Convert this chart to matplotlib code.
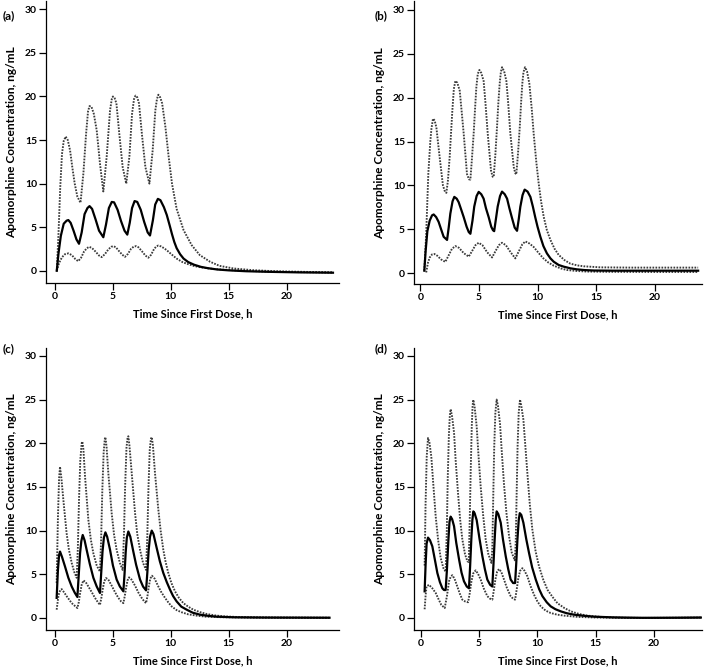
import matplotlib
matplotlib.use("Agg")
import matplotlib.pyplot as plt
from matplotlib import font_manager as fm
import numpy as np

# ---- panel (a) ----
a_mid_t = [0.15, 0.3, 0.5, 0.75, 1.0, 1.15, 1.35, 1.6, 1.85, 2.07, 2.3, 2.55, 2.8, 2.98, 3.2, 3.5, 3.8, 4.17,
           4.4, 4.65, 4.9, 5.1, 5.4, 5.7, 6.0, 6.24, 6.45, 6.65, 6.87, 7.1, 7.4, 7.7, 8.0, 8.2, 8.45, 8.65,
           8.88, 9.1, 9.4, 9.65, 9.9, 10.1, 10.3, 10.5, 10.8, 11.1, 11.5, 12.0, 12.6, 13.2, 14.0, 15.0, 16.5,
           18.5, 21, 24]
a_mid_c = [0, 2.0, 4.0, 5.4, 5.75, 5.82, 5.5, 4.6, 3.6, 3.1, 4.4, 6.5, 7.2, 7.42, 7.1, 5.9, 4.6, 3.85,
           5.3, 7.2, 7.9, 7.85, 7.0, 5.7, 4.6, 4.15, 5.5, 7.2, 8.0, 7.9, 7.0, 5.6, 4.4, 4.05, 5.8, 7.6,
           8.25, 8.1, 7.3, 6.4, 5.2, 4.2, 3.3, 2.6, 1.9, 1.4, 1.0, 0.7, 0.45, 0.3, 0.15, 0.05, -0.05,
           -0.12, -0.18, -0.22]
a_hi_t = [0.15, 0.3, 0.45, 0.6, 0.75, 0.92, 1.1, 1.3, 1.5, 1.7, 1.93, 2.2, 2.45, 2.68, 2.85, 2.98, 3.15, 3.35,
          3.6, 3.88, 4.17, 4.46, 4.75, 4.9, 5.0, 5.15, 5.3, 5.55, 5.84, 6.15, 6.42, 6.65, 6.82, 6.95, 7.1,
          7.25, 7.5, 7.8, 8.15, 8.43, 8.66, 8.8, 8.92, 9.08, 9.25, 9.53, 9.81, 10.1, 10.5, 11.1, 11.8, 12.5,
          13.4, 14.2, 15.4, 17.0, 19, 21.5, 24]
a_hi_c = [0, 4.3, 9.6, 13.4, 14.9, 15.4, 15.0, 13.8, 11.8, 10.0, 8.5, 7.8, 11.2, 15.7, 18.3, 18.9, 18.8, 18.0,
          16.1, 12.3, 9.1, 13.1, 18.4, 19.7, 20.0, 19.8, 19.2, 15.7, 11.9, 10.0, 13.1, 18.0, 19.7, 20.1, 19.9,
          19.2, 15.7, 11.9, 10.0, 13.8, 18.4, 19.7, 20.2, 19.9, 19.2, 16.5, 13.1, 10.0, 7.1, 4.66, 2.94, 1.8,
          1.03, 0.57, 0.27, 0.08, -0.05, -0.12, -0.18]
a_lo_t = [0.15, 0.35, 0.6, 0.85, 1.15, 1.45, 1.75, 2.0, 2.25, 2.5, 2.75, 2.96, 3.2, 3.5, 3.8, 4.03, 4.3, 4.6,
          4.85, 5.03, 5.25, 5.5, 5.8, 6.04, 6.3, 6.55, 6.8, 7.0, 7.2, 7.5, 7.8, 8.06, 8.3, 8.55, 8.75, 8.92,
          9.15, 9.4, 9.64, 10.0, 10.5, 11.0, 11.4, 12.0, 12.5, 13.2, 14.0, 15.5, 18, 21, 24]
a_lo_c = [0, 0.9, 1.55, 1.9, 2.0, 1.8, 1.35, 1.1, 1.5, 2.2, 2.6, 2.75, 2.6, 2.2, 1.75, 1.57, 1.9, 2.45,
          2.75, 2.83, 2.7, 2.3, 1.85, 1.6, 1.95, 2.5, 2.78, 2.83, 2.7, 2.25, 1.75, 1.5, 1.85, 2.5, 2.8, 2.9,
          2.8, 2.6, 2.37, 1.95, 1.4, 1.0, 0.8, 0.55, 0.42, 0.28, 0.18, 0.05, -0.08, -0.15, -0.2]

# ---- panel (b) ----
b_mid_t = [0.34, 0.45, 0.6, 0.8, 1.0, 1.14, 1.35, 1.56, 1.8, 1.99, 2.28, 2.42, 2.56, 2.75, 2.9, 3.1, 3.27,
           3.5, 3.7, 3.95, 4.13, 4.27, 4.45, 4.6, 4.8, 4.98, 5.2, 5.4, 5.6, 5.83, 6.05, 6.2, 6.3, 6.45, 6.6,
           6.8, 6.97, 7.2, 7.4, 7.6, 7.82, 8.05, 8.25, 8.4, 8.53, 8.72, 8.9, 9.15, 9.39, 9.6, 9.8, 10.0,
           10.24, 10.5, 10.8, 11.1, 11.38, 11.8, 12.23, 12.8, 13.37, 14.0, 14.8, 16.5, 20, 23.7]
b_mid_c = [0.3, 2.5, 4.8, 6.0, 6.6, 6.7, 6.4, 5.86, 4.9, 4.16, 3.8, 5.2, 6.8, 8.2, 8.7, 8.5, 8.1,
           7.2, 6.4, 5.3, 4.7, 4.5, 6.0, 7.6, 8.8, 9.27, 9.0, 8.5, 7.4, 6.4, 5.3, 4.9, 4.8, 6.2, 7.6,
           8.8, 9.3, 9.0, 8.5, 7.4, 6.3, 5.2, 4.84, 6.2, 7.57, 8.9, 9.53, 9.3, 8.7, 7.6, 6.4, 5.3,
           4.16, 3.1, 2.27, 1.7, 1.32, 0.95, 0.76, 0.57, 0.45, 0.37, 0.32, 0.3, 0.3, 0.3]
b_hi_t = [0.34, 0.5, 0.68, 0.85, 0.95, 1.08, 1.22, 1.37, 1.5, 1.65, 1.93, 2.1, 2.22, 2.35, 2.5, 2.62, 2.73,
          2.86, 2.99, 3.15, 3.36, 3.5, 3.7, 3.98, 4.15, 4.27, 4.4, 4.55, 4.68, 4.78, 4.9, 5.04, 5.2, 5.4,
          5.55, 5.75, 6.03, 6.17, 6.26, 6.4, 6.54, 6.66, 6.77, 6.87, 6.97, 7.15, 7.34, 7.5, 7.68, 7.97,
          8.1, 8.19, 8.33, 8.48, 8.6, 8.7, 8.8, 8.93, 9.1, 9.3, 9.5, 9.67, 9.9, 10.1, 10.3, 10.53, 10.8,
          11.1, 11.45, 11.8, 12.3, 12.8, 13.4, 13.94, 15.36, 18, 23.7]
b_hi_c = [0.3, 4.5, 11.3, 15.0, 16.5, 17.6, 17.4, 16.6, 15.0, 13.2, 10.0, 9.3, 9.16, 10.5, 13.2, 16.0, 18.5,
          21.0, 21.9, 21.7, 20.8, 18.8, 15.9, 11.3, 10.7, 10.67, 13.0, 15.9, 19.0, 21.2, 22.7, 23.15, 22.8, 21.9,
          19.5, 15.9, 11.7, 11.0, 10.97, 13.5, 16.6, 19.5, 21.6, 22.9, 23.46, 23.0, 21.9, 19.3, 15.9, 12.1,
          11.4, 11.27, 13.6, 16.6, 19.5, 21.6, 22.9, 23.46, 23.0, 21.6, 18.8, 15.9, 12.6, 10.2, 8.2, 6.4, 4.9,
          3.8, 2.8, 2.1, 1.5, 1.1, 0.9, 0.8, 0.68, 0.65, 0.65]
b_lo_t = [0.5, 0.65, 0.8, 1.0, 1.2, 1.45, 1.75, 2.13, 2.4, 2.7, 2.99, 3.3, 3.7, 4.13, 4.4, 4.7, 4.98, 5.3,
          5.7, 6.12, 6.4, 6.7, 6.97, 7.3, 7.7, 8.1, 8.4, 8.7, 8.96, 9.3, 9.67, 10.1, 10.5, 10.9, 11.38, 12.0,
          12.5, 13.3, 14.2, 16, 20, 23.7]
b_lo_c = [0.1, 1.2, 1.8, 2.15, 2.2, 2.0, 1.6, 1.3, 2.0, 2.8, 3.1, 2.9, 2.3, 1.9, 2.5, 3.2, 3.48, 3.2,
          2.4, 1.8, 2.5, 3.2, 3.48, 3.2, 2.4, 1.7, 2.5, 3.3, 3.63, 3.4, 3.0, 2.3, 1.7, 1.25, 0.87, 0.55,
          0.38, 0.27, 0.2, 0.17, 0.15, 0.15]

# ---- panel (c) ----
c_mid_t = [0.14, 0.25, 0.35, 0.43, 0.6, 0.86, 1.15, 1.44, 1.7, 1.93, 2.05, 2.16, 2.27, 2.39, 2.55, 2.73, 3.0,
           3.31, 3.6, 3.88, 3.98, 4.1, 4.22, 4.35, 4.5, 4.75, 5.0, 5.32, 5.6, 5.9, 6.0, 6.1, 6.2, 6.33, 6.5,
           6.76, 7.0, 7.34, 7.6, 7.86, 7.97, 8.08, 8.2, 8.35, 8.5, 8.78, 9.05, 9.35, 9.65, 9.93, 10.2, 10.5,
           10.9, 11.37, 11.9, 12.52, 13.2, 13.96, 15.5, 18, 23.7]
c_mid_c = [2.3, 5.5, 7.2, 7.6, 7.0, 5.9, 4.6, 3.6, 2.9, 2.4, 5.0, 7.4, 8.8, 9.5, 8.9, 7.8, 6.2,
           4.6, 3.6, 2.86, 5.0, 7.6, 9.2, 9.8, 9.3, 7.8, 6.0, 4.4, 3.6, 3.05, 5.0, 7.5, 9.2, 9.9, 9.3,
           7.6, 6.1, 4.4, 3.6, 3.16, 5.2, 7.7, 9.3, 10.0, 9.6, 8.0, 6.5, 5.15, 4.1, 3.24, 2.5, 1.9,
           1.3, 0.95, 0.6, 0.38, 0.25, 0.15, 0.08, 0.05, 0.03]
c_hi_t = [0.14, 0.25, 0.35, 0.43, 0.55, 0.72, 1.0, 1.2, 1.44, 1.65, 1.87, 1.97, 2.07, 2.18, 2.3, 2.36, 2.45,
          2.59, 2.88, 3.1, 3.31, 3.6, 3.88, 3.98, 4.08, 4.2, 4.3, 4.35, 4.45, 4.6, 4.89, 5.1, 5.32, 5.6, 5.84,
          5.95, 6.05, 6.17, 6.27, 6.33, 6.42, 6.62, 6.91, 7.1, 7.34, 7.6, 7.86, 7.97, 8.07, 8.18, 8.28, 8.35,
          8.45, 8.63, 8.92, 9.12, 9.35, 9.55, 9.78, 10.05, 10.36, 10.7, 11.08, 11.5, 11.94, 12.5, 13.09, 13.8,
          14.53, 16, 19, 23.7]
c_hi_c = [4.0, 11.5, 16.0, 17.3, 16.0, 13.5, 9.7, 7.8, 6.3, 5.3, 4.6, 8.0, 13.5, 18.0, 20.0, 20.2, 19.3,
          16.2, 11.2, 8.9, 7.4, 6.0, 5.3, 9.0, 14.5, 19.0, 20.5, 20.7, 19.6, 16.6, 12.0, 9.5, 7.8, 6.3, 5.5,
          9.5, 15.0, 19.5, 20.7, 20.8, 19.8, 16.6, 12.0, 9.6, 7.8, 6.3, 5.5, 9.5, 15.0, 19.3, 20.5, 20.7,
          19.8, 16.6, 12.4, 10.0, 7.8, 6.4, 5.15, 4.0, 3.05, 2.3, 1.7, 1.3, 0.95, 0.68, 0.46, 0.3,
          0.19, 0.1, 0.05, 0.03]
c_lo_t = [0.14, 0.3, 0.45, 0.58, 0.8, 1.0, 1.44, 1.7, 1.93, 2.05, 2.16, 2.3, 2.45, 2.65, 2.88, 3.15, 3.45,
          3.7, 3.88, 4.0, 4.12, 4.25, 4.4, 4.6, 4.89, 5.2, 5.47, 5.7, 5.9, 6.02, 6.14, 6.26, 6.39, 6.6, 6.91,
          7.2, 7.48, 7.7, 7.86, 7.98, 8.1, 8.22, 8.37, 8.6, 8.92, 9.2, 9.5, 9.8, 10.07, 10.5, 10.94, 11.5,
          12.23, 13, 14.5, 17, 23.7]
c_lo_c = [0.95, 2.6, 3.2, 3.3, 2.9, 2.5, 1.7, 1.4, 1.14, 1.8, 2.8, 3.8, 4.3, 4.1, 3.6, 3.0, 2.3,
          1.8, 1.5, 2.3, 3.3, 4.2, 4.57, 4.4, 3.7, 2.9, 2.3, 1.9, 1.7, 2.5, 3.5, 4.3, 4.65, 4.4, 3.7,
          2.9, 2.3, 1.9, 1.7, 2.5, 3.6, 4.5, 4.84, 4.5, 3.6, 2.9, 2.3, 1.75, 1.33, 0.9, 0.65, 0.42,
          0.27, 0.15, 0.08, 0.04, 0.02]

# ---- panel (d) ----
d_mid_t = [0.34, 0.42, 0.51, 0.63, 0.8, 1.0, 1.2, 1.43, 1.65, 1.86, 2.0, 2.14, 2.25, 2.37, 2.47, 2.57, 2.7,
           2.86, 3.05, 3.29, 3.5, 3.71, 3.95, 4.14, 4.24, 4.34, 4.43, 4.51, 4.62, 4.8, 5.05, 5.29, 5.5, 5.71,
           5.95, 6.14, 6.24, 6.34, 6.43, 6.51, 6.65, 6.86, 7.05, 7.29, 7.5, 7.71, 7.92, 8.09, 8.19, 8.29, 8.4,
           8.49, 8.62, 8.8, 9.05, 9.29, 9.55, 9.86, 10.15, 10.43, 10.8, 11.14, 11.55, 12.0, 12.5, 13.14, 14.0,
           14.86, 16.5, 19, 22, 24]
d_mid_c = [3.05, 6.0, 8.5, 9.2, 8.9, 8.2, 6.8, 5.15, 4.1, 3.4, 3.2, 3.2, 5.5, 8.8, 11.0, 11.6, 11.3,
           10.5, 8.6, 6.7, 5.2, 4.2, 3.6, 3.4, 6.0, 9.0, 11.2, 12.2, 12.0, 11.2, 9.0, 7.05, 5.6, 4.4,
           3.8, 3.6, 6.2, 9.0, 11.2, 12.2, 11.9, 10.9, 9.0, 7.05, 5.6, 4.4, 4.0, 4.0, 6.3, 9.0, 11.2,
           12.0, 11.8, 10.9, 9.0, 7.4, 5.8, 4.4, 3.3, 2.5, 1.8, 1.33, 1.0, 0.76, 0.55, 0.38, 0.25,
           0.15, 0.07, 0.02, 0.03, 0.05]
d_hi_t = [0.34, 0.42, 0.52, 0.63, 0.75, 0.91, 1.1, 1.29, 1.5, 1.71, 1.95, 2.14, 2.24, 2.32, 2.42, 2.5, 2.57,
          2.7, 2.86, 3.0, 3.2, 3.38, 3.57, 3.8, 4.0, 4.12, 4.2, 4.29, 4.38, 4.45, 4.51, 4.62, 4.8, 4.96, 5.14,
          5.35, 5.57, 5.8, 6.06, 6.14, 6.22, 6.3, 6.4, 6.51, 6.62, 6.8, 6.95, 7.14, 7.35, 7.57, 7.8, 8.06,
          8.14, 8.22, 8.3, 8.4, 8.51, 8.62, 8.8, 8.95, 9.14, 9.35, 9.57, 9.85, 10.14, 10.5, 10.86, 11.3,
          11.71, 12.3, 12.86, 13.6, 14.29, 15.5, 17.5, 20, 24]
d_hi_c = [6.0, 13.0, 18.5, 20.6, 20.1, 18.5, 15.0, 11.6, 8.9, 6.9, 5.7, 5.3, 10.0, 16.0, 21.0, 23.2, 23.9,
          23.0, 21.2, 18.0, 14.3, 11.3, 9.0, 7.3, 6.5, 6.4, 11.0, 17.0, 22.0, 24.3, 24.97, 24.2, 21.9, 18.5,
          15.06, 11.8, 9.0, 7.3, 6.3, 8.0, 14.0, 19.5, 23.5, 25.0, 24.3, 22.2, 19.0, 15.3, 12.0, 9.4, 7.5,
          6.6, 8.5, 14.0, 19.5, 23.5, 25.0, 24.3, 22.7, 20.0, 16.6, 13.0, 10.1, 7.6, 5.9, 4.4, 3.24, 2.4,
          1.7, 1.15, 0.76, 0.45, 0.27, 0.12, 0.03, 0.0, 0.05]
d_lo_t = [0.34, 0.42, 0.5, 0.71, 1.0, 1.29, 1.55, 1.77, 2.06, 2.25, 2.43, 2.57, 2.71, 2.9, 3.14, 3.35, 3.57,
          3.8, 4.06, 4.2, 4.35, 4.5, 4.71, 4.9, 5.14, 5.4, 5.71, 5.95, 6.14, 6.27, 6.4, 6.55, 6.71, 6.9, 7.14,
          7.4, 7.71, 7.92, 8.09, 8.22, 8.36, 8.52, 8.71, 8.9, 9.14, 9.4, 9.71, 10.0, 10.29, 10.7, 11.14,
          11.7, 12.29, 13.5, 15, 18, 24]
d_lo_c = [1.0, 2.5, 3.6, 3.8, 3.4, 2.86, 2.1, 1.5, 1.14, 2.5, 4.2, 4.7, 4.9, 4.5, 3.6, 2.8, 2.1,
          1.9, 1.8, 2.8, 4.2, 5.1, 5.45, 5.1, 4.4, 3.4, 2.5, 2.2, 2.1, 3.2, 4.4, 5.3, 5.6, 5.3, 4.4,
          3.4, 2.5, 2.2, 2.1, 3.2, 4.5, 5.4, 5.7, 5.4, 4.77, 3.7, 2.67, 1.9, 1.33, 0.85, 0.57,
          0.38, 0.27, 0.12, 0.05, 0.0, 0.05]

labels = ['(a)', '(b)', '(c)', '(d)']
x_ticks = [0, 5, 10, 15, 20]
y_ticks = [0, 5, 10, 15, 20, 25, 30]
xlabel = 'Time Since First Dose, h'
ylabel = 'Apomorphine Concentration, ng/mL'

# pick a Calibri-like family that really has a bold face
family = 'DejaVu Sans'
for f in ['Lato', 'Open Sans', 'Noto Sans', 'Roboto', 'Liberation Sans']:
    try:
        p = fm.findfont(fm.FontProperties(family=f, weight='bold'), fallback_to_default=False)
        if 'bold' in p.lower() or 'black' in p.lower() or 'heavy' in p.lower():
            family = f
            break
    except Exception:
        pass
plt.rcParams['font.family'] = [family, 'DejaVu Sans']
plt.rcParams['font.weight'] = 'bold'

W, H = 709, 667
fig = plt.figure(figsize=(W / 100, H / 100), dpi=100)
renderer = fig.canvas.get_renderer()

def fit_size(text, target_px, size0=8.0):
    # font size that makes the text about target_px long
    t = fig.text(0, 0, text, fontsize=size0, fontweight='bold')
    w = t.get_window_extent(renderer).width
    t.remove()
    return size0 * target_px / w

yl_size = fit_size(ylabel, 192)
xl_size = 0.5 * (fit_size(xlabel, 111) + yl_size)

# axes boxes in pixels: left, right, top, bottom, and limits
boxes = [
    (46, 339, 1, 283, (-0.78, 24.52), (-1.4, 30.95)),
    (414, 702, 1, 284.3, (-0.54, 24.03), (-1.25, 31.0)),
    (46, 339, 348, 629.7, (-0.78, 24.52), (-1.34, 30.9)),
    (414, 702, 348, 629.7, (-0.57, 24.1), (-1.34, 30.9)),
]
curves = [
    (a_mid_t, a_mid_c, a_hi_t, a_hi_c, a_lo_t, a_lo_c),
    (b_mid_t, b_mid_c, b_hi_t, b_hi_c, b_lo_t, b_lo_c),
    (c_mid_t, c_mid_c, c_hi_t, c_hi_c, c_lo_t, c_lo_c),
    (d_mid_t, d_mid_c, d_hi_t, d_hi_c, d_lo_t, d_lo_c),
]

for i, (l, r, t, b, xl, yl) in enumerate(boxes):
    ax = fig.add_axes([l / W, 1 - b / H, (r - l) / W, (b - t) / H])
    mt, mc, ht, hc, lt, lc = curves[i]
    dot = dict(color='#3a3a3a', lw=1.35, linestyle=(0, (0.9, 0.7)))
    ax.plot(ht, hc, **dot)
    ax.plot(lt, lc, **dot)
    ax.plot(mt, mc, color='black', lw=1.6)
    ax.set_xlim(xl)
    ax.set_ylim(yl)
    ax.set_xticks(x_ticks)
    ax.set_yticks(y_ticks)
    for s in ['top', 'right']:
        ax.spines[s].set_visible(False)
    for s in ['left', 'bottom']:
        ax.spines[s].set_linewidth(0.9)
    ax.tick_params(direction='out', length=5, width=0.9, labelsize=7.5, pad=1.5)
    for lab in ax.get_xticklabels() + ax.get_yticklabels():
        lab.set_fontweight('bold')
    ax.set_xlabel(xlabel, fontsize=xl_size, fontweight='bold', va='center')
    ax.set_ylabel(ylabel, fontsize=yl_size, fontweight='bold', va='center')
    ax.xaxis.set_label_coords(0.5, -31 / (b - t))
    ax.yaxis.set_label_coords(-34 / (r - l), 0.5)
    lx = 9 if i % 2 == 0 else 381
    ly = 16 if i < 2 else 349
    fig.text(lx / W, 1 - ly / H, labels[i], fontsize=8.5, fontweight='bold', ha='center', va='center')

fig.savefig('out.png', dpi=100)
